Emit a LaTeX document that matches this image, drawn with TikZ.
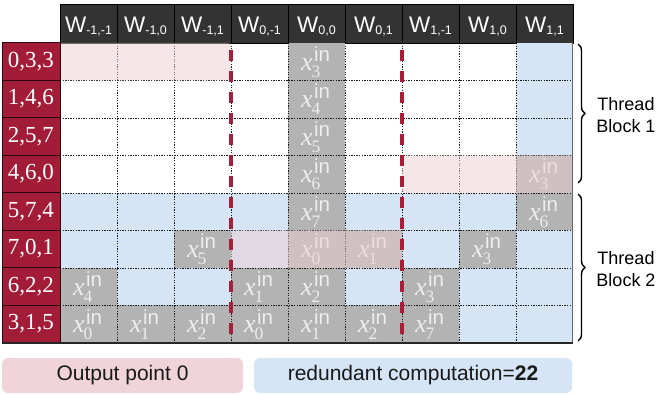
\documentclass[tikz,border=0pt]{standalone}
\usepackage{fontspec}
\setmainfont{Liberation Serif}
\setsansfont{Liberation Sans}
\usetikzlibrary{decorations.pathreplacing}
\definecolor{rlab}{RGB}{163,28,55}
\definecolor{rdash}{RGB}{168,30,56}
\definecolor{hdr}{RGB}{51,51,51}
\definecolor{gcell}{RGB}{179,179,179}
\definecolor{bcell}{RGB}{213,229,245}
\definecolor{pov}{RGB}{235,206,210}
\definecolor{lpink}{RGB}{240,212,217}
\definecolor{lblue}{RGB}{213,229,245}
\definecolor{gtxt}{RGB}{238,238,238}
\newcommand\xin[1]{{\fontsize{26}{26}\selectfont\itshape x}\rlap{\kern-1pt\raisebox{-7pt}{\fontsize{17.5}{17.5}\selectfont #1}}\kern1.5pt\raisebox{9pt}{\sffamily\fontsize{20.5}{20.5}\selectfont in}}
\newcommand\hw[1]{W\raisebox{-2.5pt}{\fontsize{12.5}{12.5}\selectfont #1}}
\tikzset{
  hdrcell/.style={fill=hdr,draw=black,line width=0.8pt},
  labcell/.style={fill=rlab,draw=black!75!rlab,line width=1pt},
  bluecell/.style={fill=bcell},
  graycell/.style={fill=gcell},
  gridline/.style={black!90,line width=0.8pt,dash pattern=on 1.3pt off 1.3pt},
  reddash/.style={rdash,line width=4.5pt,dash pattern=on 11pt off 10pt},
  overlay pink/.style={fill=pov,fill opacity=0.5,rounded corners=3pt},
  bracestyle/.style={decorate,decoration={brace,amplitude=7pt},line width=1.4pt},
  legtext/.style={font=\sffamily\fontsize{21}{21}\selectfont,text=black!90,inner sep=0pt,rounded corners=6pt,minimum height=35pt},
}
\begin{document}
\begin{tikzpicture}[x=1pt,y=-1pt]
\useasboundingbox (0,0) rectangle (664,395);
% header
\foreach \t [count=\i from 0] in {{-1,-1},{-1,0},{-1,1},{0,-1},{0,0},{0,1},{1,-1},{1,0},{1,1}}{
  \path[hdrcell] (60+57*\i,4) rectangle (117+57*\i,43);
  \node[anchor=base,text=white,font=\sffamily\fontsize{22.5}{22.5}\selectfont,inner sep=0pt] (h\i) at (88.5+57*\i,32.5) {\hw{\t}};
}
% blue cells
\foreach \c/\r in {8/0,8/1,8/2,0/4,1/4,2/4,3/4,5/4,6/4,7/4,0/5,1/5,3/5,6/5,8/5,1/6,2/6,5/6,7/6,8/6,7/7,8/7}{
  \path[bluecell] (60+57*\c,43+37.5*\r) rectangle (117+57*\c,80.5+37.5*\r);
}
% gray cells
\foreach \c/\r/\n in {4/0/3,4/1/4,4/2/5,4/3/6,8/3/3,4/4/7,8/4/6,2/5/5,4/5/0,5/5/1,7/5/3,0/6/4,3/6/1,4/6/2,6/6/3,0/7/0,1/7/1,2/7/2,3/7/0,4/7/1,5/7/2,6/7/7}{
  \path[graycell] (60+57*\c,43+37.5*\r) rectangle (117+57*\c,80.5+37.5*\r);
  \node[anchor=base,text=gtxt,inner sep=0pt] (g\c-\r) at (87.5+57*\c,70.5+37.5*\r) {\xin{\n}};
}
% dotted grid
\foreach \k in {1,...,7}{
  \draw[gridline] (60,43+37.5*\k) -- (572,43+37.5*\k);
}
\foreach \k in {1,...,8}{
  \draw[gridline] (60+57*\k,43) -- (60+57*\k,343);
}
% pink overlays
\path[overlay pink] (57,43) rectangle (231,80.5);
\path[overlay pink] (402,155.5) rectangle (573,193);
\path[overlay pink] (231,230.5) rectangle (402,268);
% row labels
\foreach \t [count=\i from 0] in {{0,3,3},{1,4,6},{2,5,7},{4,6,0},{5,7,4},{7,0,1},{6,2,2},{3,1,5}}{
  \path[labcell] (2,43+37.5*\i) rectangle (60,80.5+37.5*\i);
  \node[anchor=base,text=white,font=\fontsize{23}{23}\selectfont,inner sep=0pt] (r\i) at (31,67.5+37.5*\i) {\t};
}
% borders
\draw[black!60,line width=1pt] (572,43) -- (572,343);
\draw[black!85,line width=1.2pt] (2,343) -- (572.5,343);
% red dashed separators
\draw[reddash] (231,50) -- (231,340);
\draw[reddash] (402,50) -- (402,340);
% braces
\coordinate (b1t) at (578,44);
\coordinate (b1b) at (578,183);
\coordinate (b2t) at (578,194);
\coordinate (b2b) at (578,341);
\draw[bracestyle] (b1t) -- (b1b);
\draw[bracestyle] (b2t) -- (b2b);
\node[align=center,font=\sffamily\fontsize{18}{22}\selectfont,inner sep=0pt] (tb1) at (626,115) {Thread\\Block 1};
\node[align=center,font=\sffamily\fontsize{18}{22}\selectfont,inner sep=0pt] (tb2) at (626,269) {Thread\\Block 2};
% legend
\node[legtext,fill=lpink,minimum width=241pt] (leg1) at (122.5,375.5) {Output point 0};
\node[legtext,fill=lblue,minimum width=318pt] (leg2) at (413,375.5) {redundant computation=\textbf{22}};
\end{tikzpicture}
\end{document}
